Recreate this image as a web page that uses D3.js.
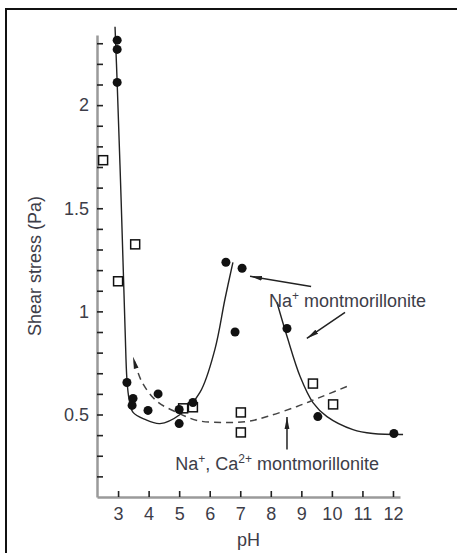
<!DOCTYPE html>
<html>
<head>
<meta charset="utf-8">
<script src="https://cdn.jsdelivr.net/npm/d3@7"></script>
<style>
  html, body { margin: 0; padding: 0; background: #fff; }
  svg { display: block; }
  text { font-family: "Liberation Sans", Arial, Helvetica, sans-serif; fill: #3d3d48; }
</style>
</head>
<body>
<svg id="chart" width="457" height="553"></svg>
<script>
// Na+ montmorillonite: measured points
const naPH     = [2.97, 2.97, 2.97, 3.29, 3.49, 3.46, 3.98, 4.31, 5.0, 5.0, 5.45, 6.53, 7.06, 6.83, 8.53, 9.54, 12.03];
const naStress = [2.315, 2.27, 2.11, 0.655, 0.578, 0.544, 0.52, 0.60, 0.524, 0.456, 0.558, 1.238, 1.209, 0.90, 0.917, 0.49, 0.408];

// Na+, Ca2+ montmorillonite: measured points
const mixPH     = [2.51, 3.56, 3.0, 5.13, 5.45, 7.02, 7.02, 9.38, 10.04];
const mixStress = [1.733, 1.325, 1.146, 0.53, 0.535, 0.51, 0.413, 0.65, 0.549];

// Trend curves
const naLeftPH      = [2.90, 2.97, 3.10, 3.23, 3.29, 3.36, 3.49, 3.88, 4.37, 5.03, 5.68, 6.17, 6.50, 6.76];
const naLeftStress  = [2.38, 2.11, 1.54, 0.91, 0.67, 0.575, 0.51, 0.476, 0.456, 0.50, 0.607, 0.816, 1.06, 1.238];
const naRightPH     = [8.20, 8.53, 8.96, 9.38, 9.84, 10.69, 11.34, 12.33];
const naRightStress = [1.044, 0.879, 0.684, 0.558, 0.49, 0.427, 0.408, 0.403];
const mixFitPH      = [3.49, 3.79, 4.28, 4.93, 5.59, 6.44, 7.22, 7.88, 8.86, 9.61, 10.49];
const mixFitStress  = [0.78, 0.655, 0.563, 0.51, 0.471, 0.461, 0.466, 0.49, 0.539, 0.583, 0.636];

// Axis ticks
const xTicks = [3, 4, 5, 6, 7, 8, 9, 10, 11, 12];
const yTicks = [0.2, 0.3, 0.4, 0.5, 0.6, 0.7, 0.8, 0.9, 1.0, 1.1, 1.2, 1.3, 1.4, 1.5, 1.6, 1.7, 1.8, 1.9, 2.0, 2.1, 2.2, 2.3];
const yLabelled = [0.5, 1, 1.5, 2];

const svg = d3.select("#chart");
const FS = 18;

// outer frame
svg.append("rect")
  .attr("x", 6).attr("y", 9).attr("width", 470).attr("height", 570)
  .attr("fill", "none").attr("stroke", "#111").attr("stroke-width", 2);

const x = d3.scaleLinear().domain([2.31, 12.23]).range([97, 400]);
const y = d3.scaleLinear().domain([0.1, 2.34]).range([497, 35]);

const defs = svg.append("defs");
defs.append("marker")
  .attr("id", "head")
  .attr("viewBox", "0 0 12 6")
  .attr("refX", 12).attr("refY", 3)
  .attr("markerWidth", 12).attr("markerHeight", 6)
  .attr("markerUnits", "userSpaceOnUse")
  .attr("orient", "auto")
  .append("path").attr("d", "M0,0.6 L12,3 L0,5.4 Z").attr("fill", "#222");

// axes
const xAxis = d3.axisBottom(x)
  .tickValues(xTicks).tickFormat(d3.format("d"))
  .tickSizeInner(-6).tickSizeOuter(0).tickPadding(10);
const yAxis = d3.axisLeft(y)
  .tickValues(yTicks)
  .tickFormat(d => yLabelled.some(v => Math.abs(v - d) < 1e-9) ? d3.format("~g")(d) : "")
  .tickSizeInner(-6).tickSizeOuter(0).tickPadding(8);

function styleAxis(g) {
  g.attr("font-family", null);
  g.select(".domain").attr("stroke", "#9a9a9a").attr("stroke-width", 2.5);
  g.selectAll(".tick line").attr("stroke", "#222").attr("stroke-width", 1.6);
  g.selectAll(".tick text").attr("font-size", FS).attr("fill", "#3d3d48");
}

svg.append("g").attr("transform", "translate(0,497)").call(xAxis).call(styleAxis);
svg.append("g").attr("transform", "translate(97,0)").call(yAxis).call(styleAxis);

// axis titles
svg.append("text")
  .attr("x", x((2.31 + 12.23) / 2)).attr("y", 546)
  .attr("text-anchor", "middle").attr("font-size", FS)
  .text("pH");
svg.append("text")
  .attr("transform", `translate(41,${(35 + 497) / 2}) rotate(-90)`)
  .attr("text-anchor", "middle").attr("font-size", FS)
  .text("Shear stress (Pa)");

// trend curves
const line = d3.line().x(d => x(d[0])).y(d => y(d[1])).curve(d3.curveCatmullRom.alpha(0.5));
const pairs = (a, b) => a.map((v, i) => [v, b[i]]);

svg.append("path").datum(pairs(naLeftPH, naLeftStress))
  .attr("d", line).attr("fill", "none").attr("stroke", "#222").attr("stroke-width", 1.4);
svg.append("path").datum(pairs(naRightPH, naRightStress))
  .attr("d", line).attr("fill", "none").attr("stroke", "#222").attr("stroke-width", 1.4);
const mixPts = pairs(mixFitPH, mixFitStress);
svg.append("path").datum(mixPts.slice().reverse())
  .attr("d", line).attr("fill", "none").attr("stroke", "#444")
  .attr("stroke-width", 1.5).attr("stroke-dasharray", "7,5")
  .attr("marker-end", "url(#head)");

// points
svg.append("g").selectAll("rect").data(pairs(mixPH, mixStress)).join("rect")
  .attr("x", d => x(d[0]) - 4.5).attr("y", d => y(d[1]) - 4.5)
  .attr("width", 9).attr("height", 9)
  .attr("fill", "#fff").attr("stroke", "#111").attr("stroke-width", 1.5);
svg.append("g").selectAll("circle").data(pairs(naPH, naStress)).join("circle")
  .attr("cx", d => x(d[0])).attr("cy", d => y(d[1])).attr("r", 4.5)
  .attr("fill", "#111");

// annotations
function arrow(p0, v0, p1, v1) {
  svg.append("line")
    .attr("x1", x(p0)).attr("y1", y(v0)).attr("x2", x(p1)).attr("y2", y(v1))
    .attr("stroke", "#222").attr("stroke-width", 1.5)
    .attr("marker-end", "url(#head)");
}
arrow(9.32, 1.121, 7.32, 1.17);
arrow(10.43, 0.995, 9.18, 0.869);
arrow(8.53, 0.33, 8.53, 0.488);

const lab1 = svg.append("text").attr("x", x(7.94)).attr("y", y(1.02)).attr("font-size", FS);
lab1.append("tspan").text("Na");
lab1.append("tspan").attr("font-size", 12).attr("dy", -7).text("+");
lab1.append("tspan").attr("dy", 7).text(" montmorillonite");

const lab2 = svg.append("text").attr("x", x(4.87)).attr("y", y(0.233)).attr("font-size", FS);
lab2.append("tspan").text("Na");
lab2.append("tspan").attr("font-size", 12).attr("dy", -7).text("+");
lab2.append("tspan").attr("dy", 7).text(", Ca");
lab2.append("tspan").attr("font-size", 12).attr("dy", -7).text("2+");
lab2.append("tspan").attr("dy", 7).text(" montmorillonite");
</script>
</body>
</html>
